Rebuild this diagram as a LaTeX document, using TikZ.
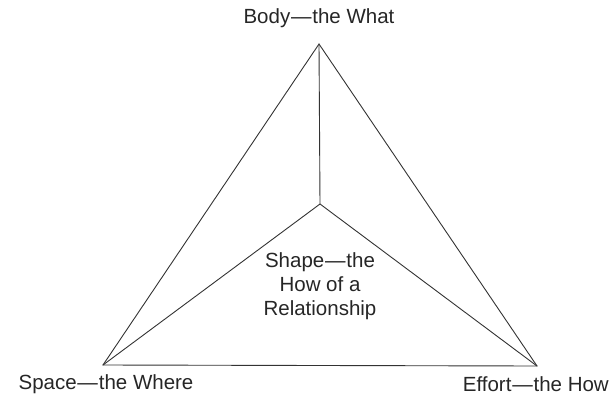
\documentclass[tikz,border=0pt]{standalone}
\usepackage{fontspec}
\setmainfont{Liberation Sans}
\newcommand{\dsh}{\hspace{0.04em}\textemdash\hspace{0.04em}}
\begin{document}
\begin{tikzpicture}[x=1pt,y=-1pt,
  edge/.style={draw=black!80, line width=0.9pt, line join=miter},
  lbl/.style={text=black!85, font=\fontsize{20.5}{24}\selectfont, inner sep=0pt}]
\useasboundingbox (0,0) rectangle (611,399);
\coordinate (T) at (319,44);
\coordinate (L) at (103,365);
\coordinate (R) at (537,366);
\coordinate (C) at (320,204);
\draw[edge] (T) -- (L) -- (R) -- cycle;
\draw[edge] (T) -- (C);
\draw[edge] (C) -- (L);
\draw[edge] (C) -- (R);
\node[lbl] (body) at (319,18) {Body\dsh the What};
\node[lbl] (space) at (106,384) {Space\dsh the Where};
\node[lbl, anchor=east] (effort) at (609,384) {Effort\dsh the How};
\node[lbl, align=center] (shape) at (320,286) {Shape\dsh the\\How of a\\Relationship};
\end{tikzpicture}
\end{document}
